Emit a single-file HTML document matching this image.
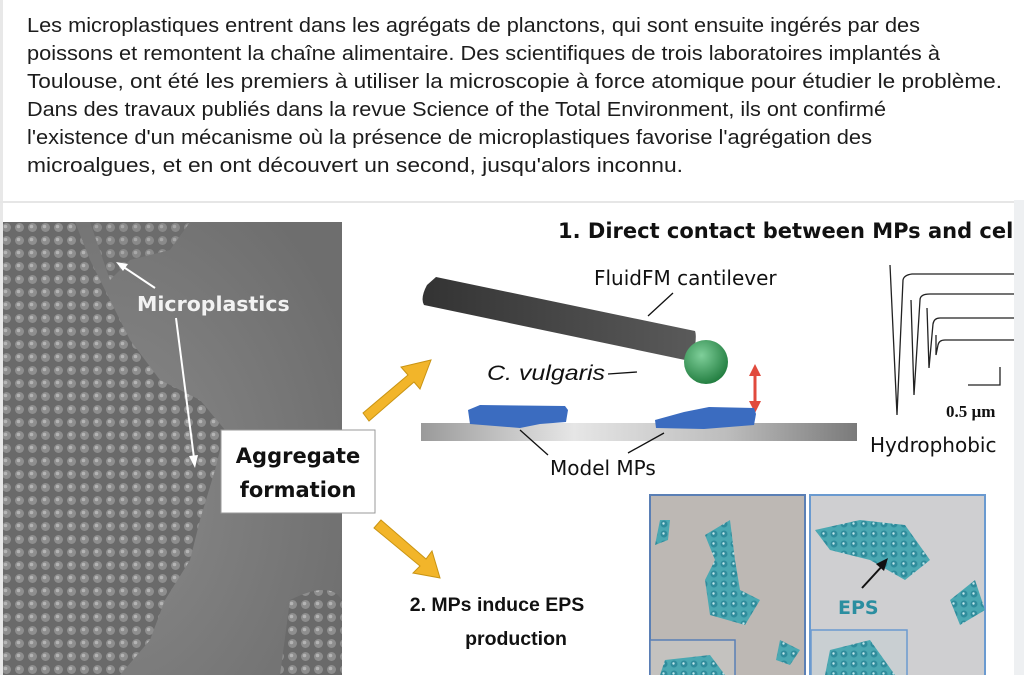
<!DOCTYPE html>
<html><head><meta charset="utf-8"><style>
html,body{margin:0;padding:0;width:1024px;height:675px;overflow:hidden;background:#fff}
svg{display:block}
.t{font-family:"Liberation Sans",sans-serif;font-size:20px;fill:#1c1c1c}
.c{font-family:"DejaVu Sans","Liberation Sans",sans-serif}
.b{font-family:"Liberation Sans",sans-serif;font-weight:bold}
</style></head><body>
<svg width="1024" height="675" viewBox="0 0 1024 675" xmlns="http://www.w3.org/2000/svg">
<defs>
<linearGradient id="bar" x1="0" x2="1"><stop offset="0" stop-color="#9a9a9a"/><stop offset="0.35" stop-color="#e6e6e6"/><stop offset="0.7" stop-color="#bdbdbd"/><stop offset="1" stop-color="#7a7a7a"/></linearGradient>
<linearGradient id="cant" x1="0" x2="1"><stop offset="0" stop-color="#333"/><stop offset="1" stop-color="#5a5a5a"/></linearGradient>
<radialGradient id="ball" cx="0.4" cy="0.35" r="0.7"><stop offset="0" stop-color="#7fcf9a"/><stop offset="1" stop-color="#1e7a3c"/></radialGradient>
<radialGradient id="photo" cx="0.3" cy="0.6" r="0.8"><stop offset="0" stop-color="#8a8a8a"/><stop offset="1" stop-color="#6e6e6e"/></radialGradient>
<pattern id="dots" width="13" height="13" patternUnits="userSpaceOnUse"><rect width="13" height="13" fill="#6a6a6a"/><circle cx="6.5" cy="6.5" r="4.5" fill="#8e8e8e"/><circle cx="5.5" cy="5.5" r="1.8" fill="#b4b4b4"/></pattern>
<pattern id="cells" width="10" height="10" patternUnits="userSpaceOnUse"><rect width="10" height="10" fill="#4aa8b2"/><circle cx="4" cy="4" r="3.5" fill="#2f8c9c"/><circle cx="3.5" cy="3.5" r="1.2" fill="#bfe6ea"/></pattern>
</defs>
<rect x="0" y="0" width="1024" height="675" fill="#fff"/>
<rect x="0" y="0" width="3" height="675" fill="#e8e8e8"/>
<rect x="1014" y="200" width="10" height="475" fill="#eef0f2"/>
<rect x="0" y="201" width="1014" height="2" fill="#e6e6e6"/>
<g class="t">
<text x="27" y="32" textLength="893" lengthAdjust="spacingAndGlyphs">Les microplastiques entrent dans les agrégats de planctons, qui sont ensuite ingérés par des</text>
<text x="27" y="60" textLength="913" lengthAdjust="spacingAndGlyphs">poissons et remontent la chaîne alimentaire. Des scientifiques de trois laboratoires implantés à</text>
<text x="27" y="88" textLength="975" lengthAdjust="spacingAndGlyphs">Toulouse, ont été les premiers à utiliser la microscopie à force atomique pour étudier le problème.</text>
<text x="27" y="116" textLength="859" lengthAdjust="spacingAndGlyphs">Dans des travaux publiés dans la revue Science of the Total Environment, ils ont confirmé</text>
<text x="27" y="144" textLength="845" lengthAdjust="spacingAndGlyphs">l'existence d'un mécanisme où la présence de microplastiques favorise l'agrégation des</text>
<text x="27" y="172" textLength="656" lengthAdjust="spacingAndGlyphs">microalgues, et en ont découvert un second, jusqu'alors inconnu.</text>
</g>
<rect x="3" y="222" width="339" height="453" fill="url(#photo)"/>
<path d="M3 222 L75 222 L90 260 L110 300 L130 340 L160 380 L200 400 L225 430 L215 470 L200 520 L190 560 L165 600 L150 640 L120 675 L3 675Z" fill="url(#dots)"/>
<path d="M90 222 L190 222 L170 250 L130 260 L110 280Z" fill="url(#dots)" opacity="0.8"/>
<path d="M290 600 Q330 580 342 600 L342 675 L280 675Z" fill="url(#dots)"/>
<text x="137" y="311" class="c" font-size="20.5" font-weight="bold" fill="#f2f2f2">Microplastics</text>
<line x1="155" y1="288" x2="122" y2="266" stroke="#fff" stroke-width="2"/><path d="M116 262 L128 264 L123 271Z" fill="#fff"/>
<line x1="176" y1="318" x2="194" y2="458" stroke="#fff" stroke-width="2"/><path d="M195 468 L189 456 L198 455Z" fill="#fff"/>
<rect x="221" y="430" width="154" height="83" fill="#fff" stroke="#999" stroke-width="1"/>
<text x="298" y="463" text-anchor="middle" class="c" font-size="21" font-weight="bold" fill="#111">Aggregate</text>
<text x="298" y="497" text-anchor="middle" class="c" font-size="21" font-weight="bold" fill="#111">formation</text>
<path d="M363 413 L408 375 L401 367 L431 360 L420 389 L414 382 L369 421Z" fill="#f2b52a" stroke="#c99413" stroke-width="1"/>
<path d="M374 528 L420 566 L413 573 L440 578 L432 551 L426 559 L381 520Z" fill="#f2b52a" stroke="#c99413" stroke-width="1"/>
<text x="558" y="238" class="c" font-size="21" font-weight="bold" fill="#111">1. Direct contact between MPs and cel</text>
<path d="M427 285 L436 277 L695 331 Q697 336 694 352 L685 360 L424 305 Q420 298 427 285Z" fill="url(#cant)"/>
<text x="594" y="285" class="c" font-size="20" fill="#111">FluidFM cantilever</text>
<line x1="673" y1="293" x2="648" y2="316" stroke="#111" stroke-width="1.3"/>
<circle cx="706" cy="362" r="22" fill="url(#ball)"/>
<text x="487" y="380" font-family="Liberation Sans,sans-serif" font-size="21" font-style="italic" fill="#111" textLength="118" lengthAdjust="spacingAndGlyphs">C. vulgaris</text>
<line x1="608" y1="374" x2="637" y2="372" stroke="#111" stroke-width="1.3"/>
<line x1="755" y1="375" x2="755" y2="405" stroke="#e14a3d" stroke-width="3"/>
<path d="M755 364 L749 376 L761 376Z M755 413 L749 401 L761 401Z" fill="#e14a3d"/>
<rect x="421" y="423" width="436" height="18" fill="url(#bar)"/>
<path d="M468 410 L480 405 L565 406 L568 410 L566 422 L540 424 L520 428 L470 424Z" fill="#3b6cc0"/>
<path d="M655 420 L684 412 L709 407 L754 408 L756 414 L754 425 L704 429 L656 428Z" fill="#3b6cc0"/>
<line x1="520" y1="430" x2="548" y2="455" stroke="#111" stroke-width="1.3"/>
<line x1="664" y1="433" x2="628" y2="453" stroke="#111" stroke-width="1.3"/>
<text x="550" y="475" class="c" font-size="20" fill="#111">Model MPs</text>
<g fill="none" stroke="#222" stroke-width="1.3">
<path d="M890 265 L897 415 L903 280 Q904 275 912 274 L1014 274"/>
<path d="M1014 294 L930 294 Q920 294 920 300 L914 395 L911 300"/>
<path d="M1014 318 L940 318 Q934 318 933 324 L929 368 L927 308"/>
<path d="M1014 340 L945 340 Q939 340 938 345 L936 355 L936 335"/>
<path d="M968 385 L1000 385 L1000 367"/>
</g>
<text x="946" y="417" font-family="Liberation Serif,serif" font-size="17" font-weight="bold" fill="#111">0.5 µm</text>
<text x="870" y="452" class="c" font-size="20" fill="#111">Hydrophobic</text>
<text x="497" y="611" text-anchor="middle" class="b" font-size="19.5" fill="#111">2. MPs induce EPS</text>
<text x="516" y="645" text-anchor="middle" class="b" font-size="19.5" fill="#111">production</text>
<rect x="650" y="495" width="155" height="185" fill="#bdb8b4" stroke="#5a7fb5" stroke-width="2"/>
<rect x="810" y="495" width="175" height="185" fill="#cfcfd1" stroke="#6a9ad0" stroke-width="2"/>
<g fill="url(#cells)">
<path d="M705 535 L730 520 L735 560 L740 590 L760 600 L745 625 L710 615 L705 580 L715 560Z"/>
<path d="M815 530 L860 520 L905 525 L930 560 L905 580 L870 560 L830 550Z"/>
<path d="M950 600 L975 580 L985 610 L960 625Z"/>
<path d="M660 520 L670 520 L668 540 L655 545Z"/>
<path d="M780 640 L800 650 L790 665 L776 660Z"/>
</g>
<rect x="650" y="640" width="85" height="40" fill="#c4c2bf" stroke="#5a7fb5" stroke-width="1.5"/>
<path d="M665 660 L710 655 L725 675 L660 675Z" fill="url(#cells)"/>
<rect x="811" y="630" width="96" height="50" fill="#c9cfd2" stroke="#6a9ad0" stroke-width="1.5"/>
<path d="M830 650 L870 640 L895 675 L825 675Z" fill="url(#cells)"/>
<line x1="862" y1="588" x2="884" y2="564" stroke="#111" stroke-width="2"/><path d="M888 558 L876 564 L884 571Z" fill="#111"/>
<text x="838" y="614" class="c" font-size="19" font-weight="bold" fill="#2b8ea0">EPS</text>
</svg>
</body></html>
